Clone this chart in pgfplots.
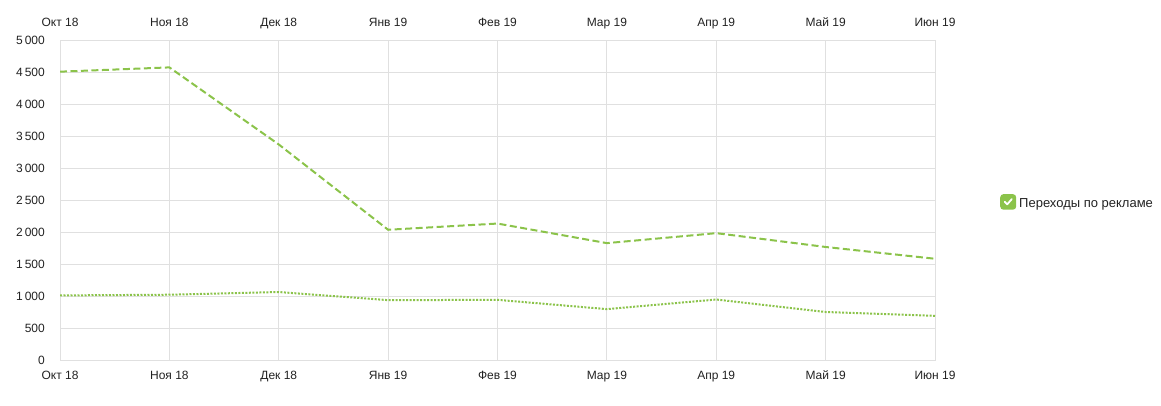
\documentclass[border=0pt]{standalone}
\usepackage{pgfplots}
\pgfplotsset{compat=1.18}
\usepackage{fontspec}
\setmainfont{Liberation Sans}
\definecolor{lgreen}{RGB}{139,195,74}
\definecolor{gridc}{RGB}{224,224,224}
\definecolor{txt}{RGB}{34,34,34}
\begin{document}
\begin{tikzpicture}
\useasboundingbox (0,0) rectangle (1161bp,406bp);
\pgfplotsset{
  common/.style={
    at={(60bp,46bp)}, anchor=south west,
    scale only axis, width=875bp, height=320bp,
    xmin=0, xmax=8, ymin=0, ymax=5000,
    xtick={0,...,8},
    xticklabels={Окт 18,Ноя 18,Дек 18,Янв 19,Фев 19,Мар 19,Апр 19,Май 19,Июн 19},
    tick style={draw=none},
    ticklabel style={font=\fontsize{12bp}{14bp}\selectfont, text=txt, inner sep=0pt},
    /pgf/number format/assume math mode=true,
  }
}
\begin{axis}[common,
  axis line style={draw=gridc},
  grid=major, grid style={draw=gridc, line width=0.8bp},
  ytick={0,500,...,5000},
  yticklabels={0,500,1\,000,1\,500,2\,000,2\,500,3\,000,3\,500,4\,000,4\,500,5\,000},
  y tick label style={anchor=east, xshift=-15bp},
  x tick label style={anchor=base, yshift=-19.5bp},
  legend style={at={(1.0743,0.494)}, anchor=west, draw=none, fill=none, inner sep=0pt,
    font=\fontsize{13bp}{15bp}\selectfont, text=txt,
    nodes={inner sep=0pt}, column sep=3bp},
  legend cell align=left,
]
\addplot[lgreen, line width=2bp, dash pattern=on 7bp off 3.5bp, forget plot]
  coordinates {(0,4505) (1,4572) (2,3368) (3,2035) (4,2132) (5,1826) (6,1982) (7,1766) (8,1582)};
\addplot[lgreen, line width=2bp, dash pattern=on 2bp off 1.5bp,
  legend image code/.code={
    \fill[lgreen, solid, rounded corners=2.5bp] (0bp,-5.3bp) rectangle (14bp,8.3bp);
    \draw[white, solid, line width=1.8bp, line cap=round, line join=round]
      (3.5bp,1.7bp) -- (6bp,-0.9bp) -- (10.6bp,4.3bp);
  }]
  coordinates {(0,1009) (1,1020) (2,1062) (3,935) (4,940) (5,795) (6,945) (7,750) (8,690)};
\addlegendentry{Переходы по рекламе}
\end{axis}
\begin{axis}[common,
  axis line style={draw=none},
  ytick=\empty,
  xticklabel pos=top,
  x tick label style={anchor=base, yshift=13.3bp},
]
\end{axis}
\end{tikzpicture}
\end{document}
